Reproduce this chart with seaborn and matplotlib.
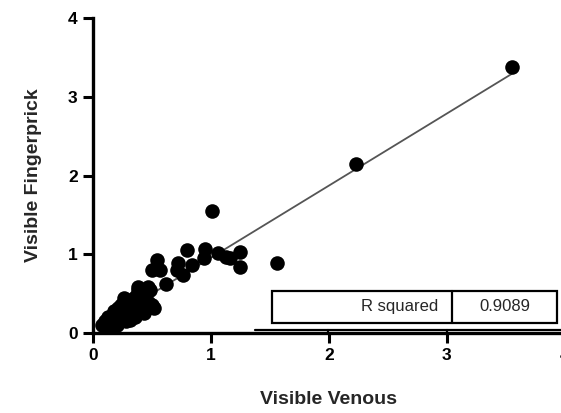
import numpy as np
import pandas as pd
import seaborn as sns
import matplotlib.pyplot as plt
from matplotlib.patches import Rectangle
from matplotlib.lines import Line2D

# values
venous = [0.08, 0.10, 0.12, 0.13, 0.15, 0.16, 0.17, 0.18, 0.19, 0.20, 0.21, 0.22, 0.23,
          0.24, 0.25, 0.26, 0.27, 0.28, 0.29, 0.30, 0.31, 0.32, 0.33, 0.34, 0.35, 0.36,
          0.37, 0.38, 0.39, 0.40, 0.41, 0.42, 0.44, 0.45, 0.47, 0.48, 0.50, 0.52, 0.14,
          0.20, 0.28, 0.36, 0.43, 0.17, 0.31,
          0.38, 0.47, 0.50, 0.54, 0.57, 0.62, 0.71, 0.72, 0.76, 0.80, 0.84,
          0.94, 0.95, 1.01, 1.06, 1.13, 1.16, 1.25, 1.25, 1.56, 2.23, 3.55]
fingerprick = [0.10, 0.15, 0.12, 0.20, 0.14, 0.22, 0.18, 0.28, 0.12, 0.24, 0.32, 0.20, 0.16,
               0.36, 0.27, 0.45, 0.22, 0.32, 0.38, 0.26, 0.19, 0.42, 0.30, 0.35, 0.24, 0.46,
               0.31, 0.55, 0.38, 0.28, 0.44, 0.34, 0.50, 0.30, 0.40, 0.55, 0.35, 0.32, 0.08,
               0.10, 0.15, 0.20, 0.26, 0.08, 0.17,
               0.58, 0.58, 0.80, 0.93, 0.80, 0.62, 0.80, 0.89, 0.74, 1.05, 0.86,
               0.95, 1.07, 1.55, 1.02, 0.97, 0.95, 1.03, 0.84, 0.89, 2.15, 3.38]
ticks = [0, 1, 2, 3, 4]
tick_labels = ["0", "1", "2", "3", "4"]
r_squared = "0.9089"

df = pd.DataFrame({"venous": venous, "fingerprick": fingerprick})

sns.set_style("ticks", {"axes.axisbelow": False})
plt.rcParams["font.family"] = ["Liberation Sans", "DejaVu Sans"]
# tick look set up front so every tick is created with it
for a in ["xtick", "ytick"]:
    plt.rcParams[a + ".major.size"] = 7
    plt.rcParams[a + ".major.width"] = 2.2
    plt.rcParams[a + ".major.pad"] = 4
    plt.rcParams[a + ".color"] = "black"
    plt.rcParams[a + ".direction"] = "out"
plt.rcParams["xtick.bottom"] = True
plt.rcParams["ytick.left"] = True

fig = plt.figure(figsize=(5.61, 4.13), dpi=100)
ax = fig.add_axes([0.1658, 0.1937, 0.841, 0.7627])

sns.regplot(data=df, x="venous", y="fingerprick", ax=ax, ci=None,
            scatter_kws={"s": 110, "color": "black", "alpha": 1, "linewidths": 0, "zorder": 3},
            line_kws={"color": "#555555", "lw": 1.3, "zorder": 2})

ax.set_xlim(0, 4)
ax.set_ylim(0, 4)
ax.set_xticks(ticks, tick_labels, fontsize=12.5, fontweight="bold")
ax.set_yticks(ticks, tick_labels, fontsize=12.5, fontweight="bold")
for s in ["left", "bottom"]:
    ax.spines[s].set_linewidth(2.4)
    ax.spines[s].set_color("black")
ax.spines["top"].set_visible(False)
ax.spines["right"].set_visible(False)

ax.set_xlabel("Visible Venous", fontsize=14, fontweight="bold", labelpad=20)
ax.set_ylabel("Visible Fingerprick", fontsize=14, fontweight="bold", labelpad=19)

# results table box, placed relative to the axes but added to the figure
tr = ax.transAxes
fig.add_artist(Rectangle((0.379, 0.032), 0.604, 0.101, transform=tr, fill=False,
                         lw=1.6, ec="black", zorder=5))
fig.add_artist(Line2D([0.761, 0.761], [0.032, 0.133], transform=tr, color="black",
                      lw=1.6, zorder=5))
fig.text(0.731, 0.083, "R squared", transform=tr, ha="right", va="center", fontsize=12)
fig.text(0.872, 0.083, r_squared, transform=tr, ha="center", va="center", fontsize=12)
# top edge of the next (clipped) table row
fig.add_artist(Line2D([0.343, 1.0], [0.009, 0.009], transform=tr, color="black",
                      lw=1.6, zorder=5))
for xv in [0.498, 0.75]:
    fig.add_artist(Line2D([xv, xv], [0.0, 0.009], transform=tr, color="black",
                          lw=1.6, zorder=5))

fig.savefig("out.png", dpi=100)
